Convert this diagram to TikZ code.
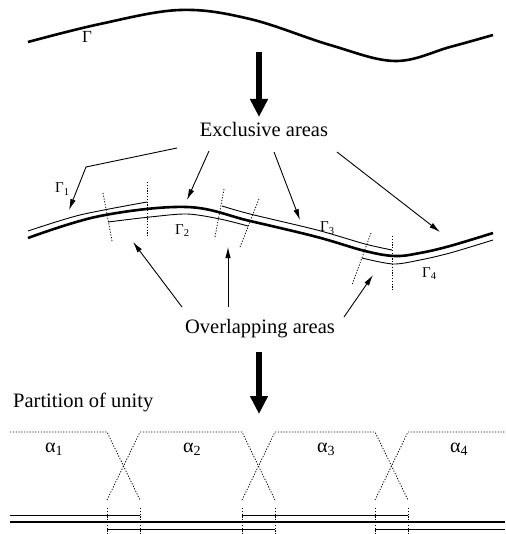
\documentclass[tikz,border=0pt]{standalone}
\usepackage{fontspec}
\setmainfont{Liberation Serif}
\usetikzlibrary{arrows.meta}

\begin{document}
\begin{tikzpicture}[x=1pt,y=-1pt]

	\tikzset{
		curve/.style={
				line width=2.6pt
			},
		piece/.style={
				line width=0.9pt
			},
		cut/.style={
				line width=0.8pt, dash pattern=on 1.2pt off 1.6pt
			},
		pointer/.style={
				line width=0.9pt, -{Latex[length=11pt,width=5.5pt]}
			},
		bigarrow/.style={
				line width=6.5pt, -{Triangle[length=18pt,width=17pt]}
			},
		txt/.style={
				inner sep=0pt, font=\fontsize{20.5}{24}\selectfont
			},
		lbl/.style={
				inner sep=0pt, anchor=base west, font=\fontsize{15}{18}\selectfont
			},
	}
	\useasboundingbox (0,0) rectangle (505,534);

	% the boundary
	\draw[curve] plot[smooth, tension=0.6] coordinates {(28,42) (100,24) (180,10) (250,19) (330,45) (395,61) (450,47) (493,35)};
	\node[txt, anchor=base west, font=\fontsize{17}{20}\selectfont](gamma) at (82,43){Γ};

	\coordinate (down1s) at (259,52);
	\coordinate (down1t) at (259,117);
	\draw[bigarrow] (down1s)--(down1t);

	\node[txt, anchor=base](excl) at (264,137){Exclusive areas};

	% split boundary
	\draw[curve] plot[smooth, tension=0.6] coordinates {(28,238) (100,216) (187,207) (250,221) (317,237) (365,251) (395,256) (420,253) (450,246) (493,233)};
	\draw[piece] plot[smooth] coordinates {(28,231) (80,215) (147,202)};
	\draw[piece] plot[smooth] coordinates {(108,222) (150,217) (187,214) (220,219) (248,226)};
	\draw[piece] plot[smooth] coordinates {(222,206) (250,214) (317,230) (365,244) (392,250)};
	\draw[piece] plot[smooth] coordinates {(362,258) (393,264) (420,260) (450,253) (493,240)};

	\draw[cut] (103,193)--(112,241);
	\draw[cut] (147,182)--(147,238);
	\draw[cut] (224,189)--(215,237);
	\draw[cut] (259,199)--(240,247);
	\draw[cut] (371,233)--(352,285);
	\draw[cut] (392,236)--(392,292);

	\node[lbl](g1) at (55,193){Γ\textsubscript{1}};
	\node[lbl](g2) at (175,234){Γ\textsubscript{2}};
	\node[lbl](g3) at (320,232){Γ\textsubscript{3}};
	\node[lbl](g4) at (422,277){Γ\textsubscript{4}};

	\coordinate (e1s) at (177,148);
	\coordinate (e1k) at (86,167);
	\coordinate (e1t) at (69,210);
	\coordinate (e2s) at (209,151);
	\coordinate (e2t) at (187,200);
	\coordinate (e3s) at (274,152);
	\coordinate (e3t) at (300,220);
	\coordinate (e4s) at (337,152);
	\coordinate (e4t) at (440,232);
	\draw[pointer] (e1s)--(e1k)--(e1t);
	\draw[pointer] (e2s)--(e2t);
	\draw[pointer] (e3s)--(e3t);
	\draw[pointer] (e4s)--(e4t);

	\node[txt, anchor=base](overl) at (260,333){Overlapping areas};

	\coordinate (o1s) at (182,307);
	\coordinate (o1t) at (133,242);
	\coordinate (o2s) at (228,307);
	\coordinate (o2t) at (228,247);
	\coordinate (o3s) at (344,317);
	\coordinate (o3t) at (373,275);
	\draw[pointer] (o1s)--(o1t);
	\draw[pointer] (o2s)--(o2t);
	\draw[pointer] (o3s)--(o3t);

	\coordinate (down2s) at (259,352);
	\coordinate (down2t) at (259,414);
	\draw[bigarrow] (down2s)--(down2t);

	\node[txt, anchor=base west](part) at (13,407){Partition of unity};

	% partition of unity
	\draw[cut] (10,432)--(107,432)--(140,500);
	\draw[cut] (107,500)--(140,432)--(242,432)--(275,500);
	\draw[cut] (242,500)--(275,432)--(375,432)--(408,500);
	\draw[cut] (375,500)--(408,432)--(505,432);
	\foreach \x in {107,140,242,275,375,408}
		\draw[cut] (\x,508)--(\x,534);

	\node[lbl, font=\fontsize{20}{24}\selectfont](a1) at (45,452){α\textsubscript{1}};
	\node[lbl, font=\fontsize{20}{24}\selectfont](a2) at (183,452){α\textsubscript{2}};
	\node[lbl, font=\fontsize{20}{24}\selectfont](a3) at (317,452){α\textsubscript{3}};
	\node[lbl, font=\fontsize{20}{24}\selectfont](a4) at (450,452){α\textsubscript{4}};

	\draw[curve] (10,522)--(505,522);
	\draw[piece] (10,515)--(140,515);
	\draw[piece] (242,515)--(408,515);
	\draw[piece] (107,529)--(275,529);
	\draw[piece] (375,529)--(505,529);

\end{tikzpicture}
\end{document}
